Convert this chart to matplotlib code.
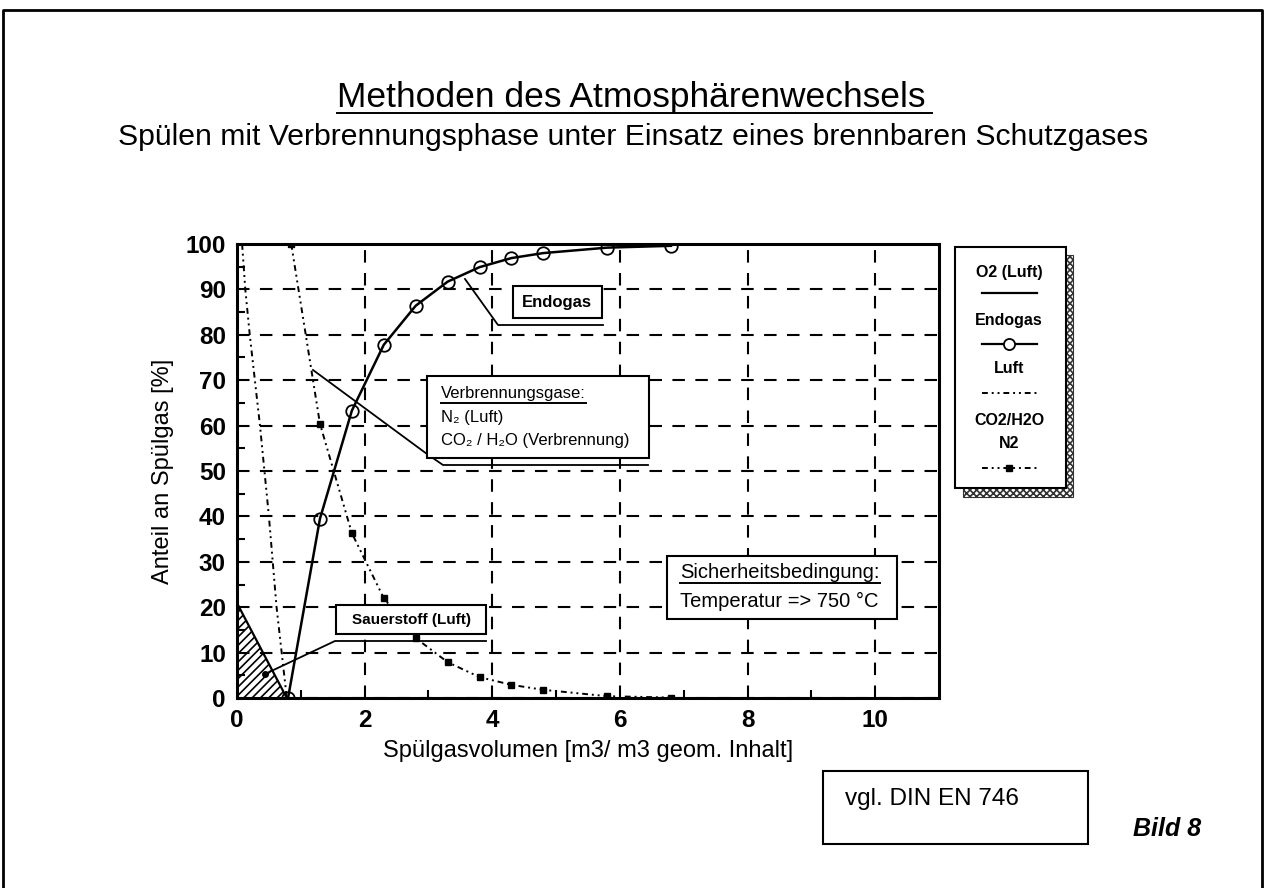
import numpy as np
import matplotlib
matplotlib.use("Agg")
import matplotlib.pyplot as plt
from matplotlib.patches import Rectangle

plt.rcParams['font.family'] = ['Liberation Sans', 'DejaVu Sans']
plt.rcParams['hatch.linewidth'] = 1.2

# data
o2_x = [0.0, 0.78]
o2_y = [20.9, 0.0]

luft_x = [0.08, 0.13, 0.20, 0.28, 0.36, 0.43, 0.50, 0.56, 0.62, 0.70, 0.78]
luft_y = [100, 90, 80, 70, 60, 50, 40, 30, 20, 10, 0]

endo_x = [0.8, 1.3, 1.8, 2.3, 2.8, 3.3, 3.8, 4.3, 4.8, 5.8, 6.8]
endo_y = [0.0, 39.5, 63.3, 77.8, 86.4, 91.7, 94.9, 96.9, 98.0, 99.2, 99.6]

verb_x = [0.85, 1.3, 1.8, 2.3, 2.8, 3.3, 3.8, 4.3, 4.8, 5.8, 6.8]
verb_y = [100, 60.4, 36.3, 22.0, 13.2, 7.9, 4.6, 2.9, 1.8, 0.4, 0.1]

x_ticks = [0, 2, 4, 6, 8, 10]
y_ticks = [0, 10, 20, 30, 40, 50, 60, 70, 80, 90, 100]

W, H = 1267, 888
fig = plt.figure(figsize=(W / 100, H / 100), dpi=100)

# main chart
ax = fig.add_axes([237 / W, 1 - 698 / H, (939 - 237) / W, (698 - 244) / H])
ax.set_xlim(0, 11)
ax.set_ylim(0, 100)

ax.fill_between(o2_x, o2_y, 0, facecolor='none', edgecolor='black', hatch='////', lw=0)
ax.plot(o2_x, o2_y, color='black', lw=1.6)
ax.plot(luft_x, luft_y, color='black', lw=1.4, dashes=(3, 2, 1, 2, 1, 2))
ax.plot(verb_x, verb_y, color='black', lw=1.4, dashes=(3, 2, 1, 2, 1, 2),
        marker='s', ms=5, mfc='black', mec='black')
ax.plot(endo_x, endo_y, color='black', lw=1.8, marker='o', ms=9,
        mfc='none', mec='black', mew=1.3)

ax.grid(True, color='black', ls=(0, (6, 5)), lw=1.5)
ax.set_axisbelow(True)
ax.set_xticks(x_ticks)
ax.set_yticks(y_ticks)
ax.set_xticks([1, 3, 5, 7, 9], minor=True)
ax.set_yticks(np.arange(5, 100, 10), minor=True)
ax.tick_params(which='major', direction='in', length=0, labelsize=17.5, pad=8)
ax.tick_params(which='minor', direction='in', length=6, width=1.5)
for lab in ax.get_xticklabels() + ax.get_yticklabels():
    lab.set_fontweight('bold')
for s in ax.spines.values():
    s.set_linewidth(2.2)
ax.set_xlabel('Spülgasvolumen [m3/ m3 geom. Inhalt]', fontsize=17, labelpad=6)
ax.set_ylabel('Anteil an Spülgas [%]', fontsize=17, labelpad=8)

# overlay in pixel coordinates for page decoration, boxes and leaders
ov = fig.add_axes([0, 0, 1, 1], facecolor='none')
ov.set_xlim(0, W)
ov.set_ylim(H, 0)
ov.axis('off')

# page border
ov.plot([3, 3, 1262, 1262], [892, 10, 10, 892], color='black', lw=2)


def box(x0, y0, x1, y1, lw=1.5):
    ov.add_patch(Rectangle((x0, y0), x1 - x0, y1 - y0, facecolor='white',
                           edgecolor='black', lw=lw, zorder=3))


def underline(t, y, x_extra=0):
    fig.canvas.draw()
    bb = t.get_window_extent()
    ov.plot([bb.x0, bb.x1 + x_extra], [y, y], color='black', lw=1.4, zorder=5)


# titles
t = ov.text(W / 2 - 2, 97, 'Methoden des Atmosphärenwechsels', fontsize=25.5,
            ha='center', va='center')
underline(t, 113, 6)
ov.text(W / 2, 137, 'Spülen mit Verbrennungsphase unter Einsatz eines brennbaren Schutzgases',
        fontsize=21.7, ha='center', va='center')

# leader lines
ov.plot([465, 498, 603], [279, 325, 325], color='black', lw=1.3, zorder=2)
ov.plot([313, 427, 443, 648], [370, 454, 465, 465], color='black', lw=1.3, zorder=2)
ov.plot([265, 335, 486], [674, 641, 641], color='black', lw=1.3, zorder=2)
ov.plot([265], [674], marker='o', ms=4, color='black', zorder=2)

# Endogas label
box(513, 286, 602, 318)
ov.text(557, 302, 'Endogas', fontsize=12, fontweight='bold', ha='center', va='center', zorder=4)

# Verbrennungsgase label
box(427, 376, 649, 458)
t = ov.text(441, 393, 'Verbrennungsgase:', fontsize=12, ha='left', va='center', zorder=4)
underline(t, 403)
ov.text(441, 417, 'N₂ (Luft)', fontsize=12, ha='left', va='center', zorder=4)
ov.text(441, 440, 'CO₂ / H₂O (Verbrennung)', fontsize=12, ha='left', va='center', zorder=4)

# Sauerstoff label
box(336, 605, 486, 634)
ov.text(411, 620, 'Sauerstoff (Luft)', fontsize=11, fontweight='bold', ha='center', va='center', zorder=4)

# Sicherheitsbedingung
box(667, 556, 897, 619)
t = ov.text(680, 572, 'Sicherheitsbedingung:', fontsize=14.5, ha='left', va='center', zorder=4)
underline(t, 583)
ov.text(680, 601, 'Temperatur => 750 °C', fontsize=14.5, ha='left', va='center', zorder=4)

# legend with hatched shadow
ov.add_patch(Rectangle((963, 255), 1073 - 963, 497 - 255, facecolor='white',
                       edgecolor='#333333', hatch='xxxxx', lw=0.8, zorder=2))
box(955, 247, 1066, 488)
lx0, lx1, lxc = 982, 1037, 1009
ov.text(lxc, 272, 'O2 (Luft)', fontsize=11.5, fontweight='bold', ha='center', va='center', zorder=4)
ov.plot([lx0, lx1], [293, 293], color='black', lw=1.6, zorder=4)
ov.text(lxc, 320, 'Endogas', fontsize=11.5, fontweight='bold', ha='center', va='center', zorder=4)
ov.plot([lx0, lx1], [344, 344], color='black', lw=1.6, zorder=4)
ov.plot([lxc], [344], marker='o', ms=8, mfc='white', mec='black', mew=1.3, zorder=5)
ov.text(lxc, 368, 'Luft', fontsize=11.5, fontweight='bold', ha='center', va='center', zorder=4)
ov.plot([lx0, lx1], [393, 393], color='black', lw=1.4, dashes=(3, 2, 1, 2, 1, 2), zorder=4)
ov.text(lxc, 420, 'CO2/H2O', fontsize=11.5, fontweight='bold', ha='center', va='center', zorder=4)
ov.text(lxc, 443, 'N2', fontsize=11.5, fontweight='bold', ha='center', va='center', zorder=4)
ov.plot([lx0, lx1], [468, 468], color='black', lw=1.4, dashes=(3, 2, 1, 2, 1, 2), zorder=4)
ov.plot([lxc], [468], marker='s', ms=5, color='black', zorder=5)

# reference box and figure number
box(823, 771, 1088, 844)
ov.text(845, 799, 'vgl. DIN EN 746', fontsize=17.5, ha='left', va='center', zorder=4)
ov.text(1133, 829, 'Bild 8', fontsize=18, fontweight='bold', fontstyle='italic',
        ha='left', va='center', zorder=4)

fig.savefig('out.png', dpi=100)
